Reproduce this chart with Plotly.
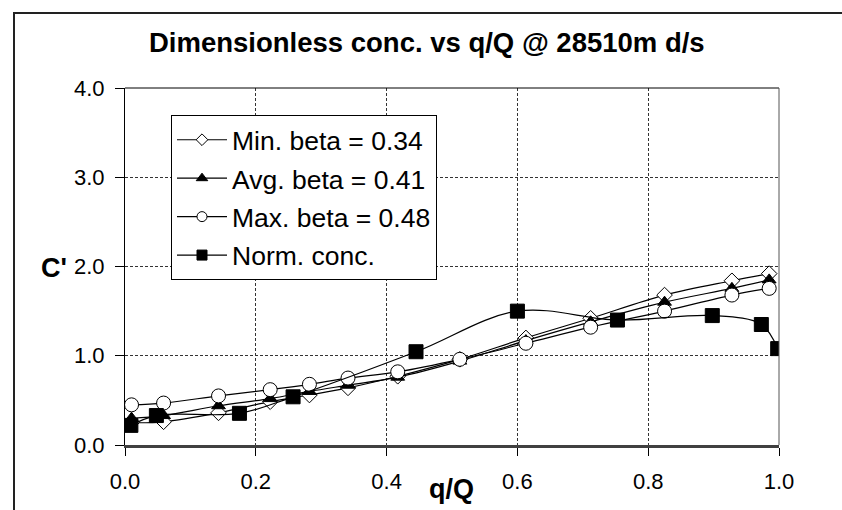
import plotly.graph_objects as go

# ---- data ----
beta_x = [0.010, 0.059, 0.143, 0.222, 0.282, 0.341, 0.417, 0.512, 0.613, 0.712, 0.825, 0.928, 0.985]
min_beta = [0.25, 0.26, 0.36, 0.485, 0.56, 0.64, 0.77, 0.96, 1.20, 1.42, 1.68, 1.84, 1.92]
avg_beta = [0.30, 0.33, 0.44, 0.52, 0.60, 0.67, 0.76, 0.94, 1.17, 1.38, 1.60, 1.755, 1.85]
max_beta = [0.45, 0.47, 0.55, 0.62, 0.68, 0.75, 0.82, 0.96, 1.14, 1.32, 1.50, 1.68, 1.755]
norm_x = [0.009, 0.048, 0.175, 0.257, 0.445, 0.600, 0.753, 0.898, 0.973, 0.998]
norm_y = [0.22, 0.33, 0.355, 0.54, 1.045, 1.50, 1.40, 1.45, 1.35, 1.08]

names = ["Min. beta = 0.34", "Avg. beta = 0.41", "Max. beta = 0.48", "Norm. conc."]
title_text = "Dimensionless conc. vs q/Q @ 28510m d/s"

FONT = "Liberation Sans, Arial, sans-serif"

styles = [
    dict(symbol="diamond", color="white", size=12, lsize=9),
    dict(symbol="triangle-up", color="black", size=12, lsize=10),
    dict(symbol="circle", color="white", size=14, lsize=10),
    dict(symbol="square", color="black", size=14, lsize=10),
]
series = [(beta_x, min_beta), (beta_x, avg_beta), (beta_x, max_beta), (norm_x, norm_y)]

fig = go.Figure()
for i, ((xs, ys), st, nm) in enumerate(zip(series, styles, names)):
    fig.add_trace(go.Scatter(
        x=xs, y=ys, mode="lines+markers", name=nm, showlegend=False,
        line=dict(color="black", width=1.2, shape="spline", smoothing=1.0),
        marker=dict(symbol=st["symbol"], size=st["size"], color=st["color"],
                    line=dict(color="black", width=1)),
    ))
# legend entries (smaller markers as in the reference legend)
for i, (st, nm) in enumerate(zip(styles, names)):
    fig.add_trace(go.Scatter(
        x=[None], y=[None], mode="lines+markers", name=nm, legendgroup=f"g{i}",
        line=dict(color="black", width=1.2),
        marker=dict(symbol=st["symbol"], size=st["lsize"], color=st["color"],
                    line=dict(color="black", width=1)),
    ))

L, R, T, B = 125, 63, 88, 65
W, H = 842, 510
pw, ph = W - L - R, H - T - B

def px2x(p):
    return (p - L) / pw

def py2y(p):
    return (H - B - p) / ph

fig.update_layout(
    width=W, height=H,
    margin=dict(l=L, r=R, t=T, b=B),
    paper_bgcolor="white", plot_bgcolor="white",
    font=dict(family=FONT, color="black", size=22),
    showlegend=True,
    legend=dict(
        x=px2x(171), y=py2y(115), xanchor="left", yanchor="top",
        bgcolor="white", bordercolor="black", borderwidth=1,
        font=dict(family=FONT, size=26.5, color="black"),
        traceorder="grouped", tracegroupgap=1,
        itemwidth=50,
    ),
    xaxis=dict(
        range=[0, 1], dtick=0.2, tick0=0, tickformat=".1f",
        showgrid=True, gridcolor="#333333", gridwidth=1, griddash="3px,2px",
        showline=True, linecolor="#404040", linewidth=3,
        ticks="outside", ticklen=8, tickcolor="black", tickwidth=1,
        tickfont=dict(family=FONT, size=22, color="black"),
        ticklabelstandoff=7,
        zeroline=False, fixedrange=True,
    ),
    yaxis=dict(
        range=[0, 4], dtick=1, tick0=0, tickformat=".1f",
        showgrid=True, gridcolor="#333333", gridwidth=1, griddash="3px,2px",
        showline=True, linecolor="black", linewidth=1,
        ticks="outside", ticklen=9, tickcolor="black", tickwidth=1,
        tickfont=dict(family=FONT, size=22, color="black"),
        ticklabelstandoff=6,
        zeroline=False, fixedrange=True,
    ),
    annotations=[
        dict(text=f"<b>{title_text}</b>", xref="paper", yref="paper",
             x=px2x(427), y=py2y(42), xanchor="center", yanchor="middle",
             showarrow=False, font=dict(family=FONT, size=27.5, color="black")),
        dict(text="<b>C'</b>", xref="paper", yref="paper",
             x=px2x(69), y=py2y(268), xanchor="right", yanchor="middle",
             showarrow=False, font=dict(family=FONT, size=27, color="black")),
        dict(text="<b>q/Q</b>", xref="paper", yref="paper",
             x=px2x(451), y=py2y(489), xanchor="center", yanchor="middle",
             showarrow=False, font=dict(family=FONT, size=27, color="black")),
    ],
    shapes=[
        # plot area top and right border
        dict(type="line", xref="paper", yref="paper", x0=0, x1=1, y0=1, y1=1,
             line=dict(color="black", width=1)),
        dict(type="line", xref="paper", yref="paper", x0=1, x1=1, y0=0, y1=1,
             line=dict(color="#555555", width=1)),
        # outer chart frame (cropped on right and bottom)
        dict(type="rect", xref="paper", yref="paper",
             x0=px2x(14), x1=px2x(900), y0=py2y(560), y1=py2y(13),
             line=dict(color="#222222", width=2), fillcolor="rgba(0,0,0,0)"),
    ],
)

fig.write_html("out.html")
